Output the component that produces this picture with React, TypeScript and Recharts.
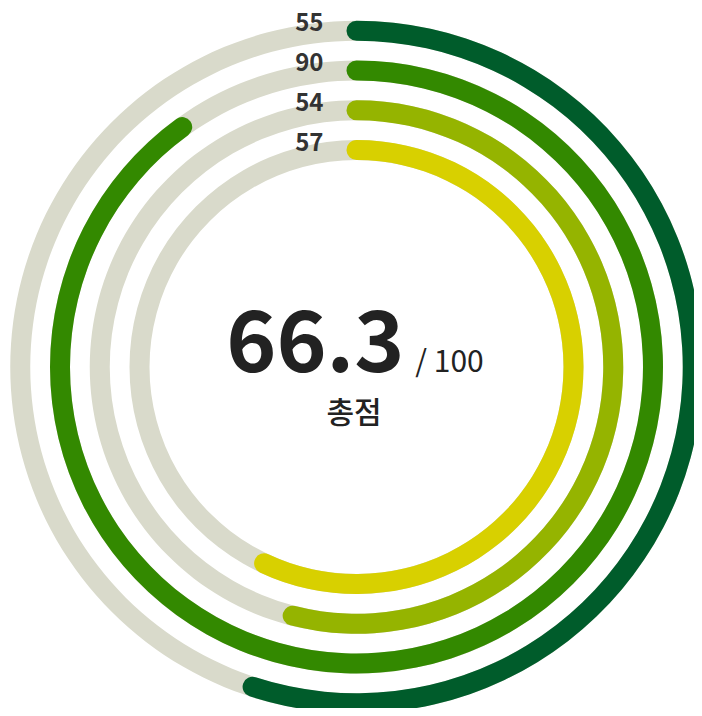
import { RadialBarChart, RadialBar, PolarAngleAxis, PolarRadiusAxis, Cell } from "recharts";

// inner ring first, outer ring last
const categories = ["d", "c", "b", "a"];
const scores = [57, 54, 90, 55];
const colors = ["#d8d000", "#95b400", "#338900", "#005c2b"];
const total = "66.3";
const maxLabel = "/ 100";
const totalCaption = "총점";

const data = categories.map((name, i) => ({ name, value: scores[i] }));

const FONT = "'Noto Sans CJK KR', 'Noto Sans', sans-serif";
const CX = 356.5;
const CY = 367;

const renderLabel = (props: any) => {
  const vb = props.viewBox || props;
  const r = (vb.innerRadius + vb.outerRadius) / 2;
  return (
    <text
      x={vb.cx - 33}
      y={vb.cy - r + 0.5}
      textAnchor="end"
      fontFamily={FONT}
      fontWeight={700}
      fontSize={24}
      fill="#333333"
    >
      {props.value}
    </text>
  );
};

export default function App() {
  return (
    <div style={{ position: "relative", width: 702, height: 716, margin: -8 }}>
      <RadialBarChart
        width={702}
        height={716}
        cx={CX}
        cy={CY}
        data={data}
        innerRadius={197}
        outerRadius={356}
        startAngle={90}
        endAngle={-270}
        barSize={20}
      >
        <PolarAngleAxis type="number" domain={[0, 100]} tick={false} axisLine={false} />
        <PolarRadiusAxis type="category" dataKey="name" tick={false} axisLine={false} />
        <RadialBar
          dataKey="value"
          background={{ fill: "#d9dacb" }}
          cornerRadius={10}
          cornerIsExternal
          isAnimationActive={false}
          label={renderLabel}
        >
          {data.map((d, i) => (
            <Cell key={d.name} fill={colors[i]} />
          ))}
        </RadialBar>
      </RadialBarChart>
      <svg
        width={702}
        height={716}
        style={{ position: "absolute", left: 0, top: 0, pointerEvents: "none" }}
      >
        <text x={355} y={372} textAnchor="middle" fontFamily={FONT} fill="#222222">
          <tspan fontSize={85} fontWeight={700}>{total}</tspan>
          <tspan fontSize={30} fontWeight={400} dx={11}>{maxLabel}</tspan>
        </text>
        <text x={354} y={423} textAnchor="middle" fontFamily={FONT} fontSize={30} fontWeight={500} fill="#222222">
          {totalCaption}
        </text>
      </svg>
    </div>
  );
}
